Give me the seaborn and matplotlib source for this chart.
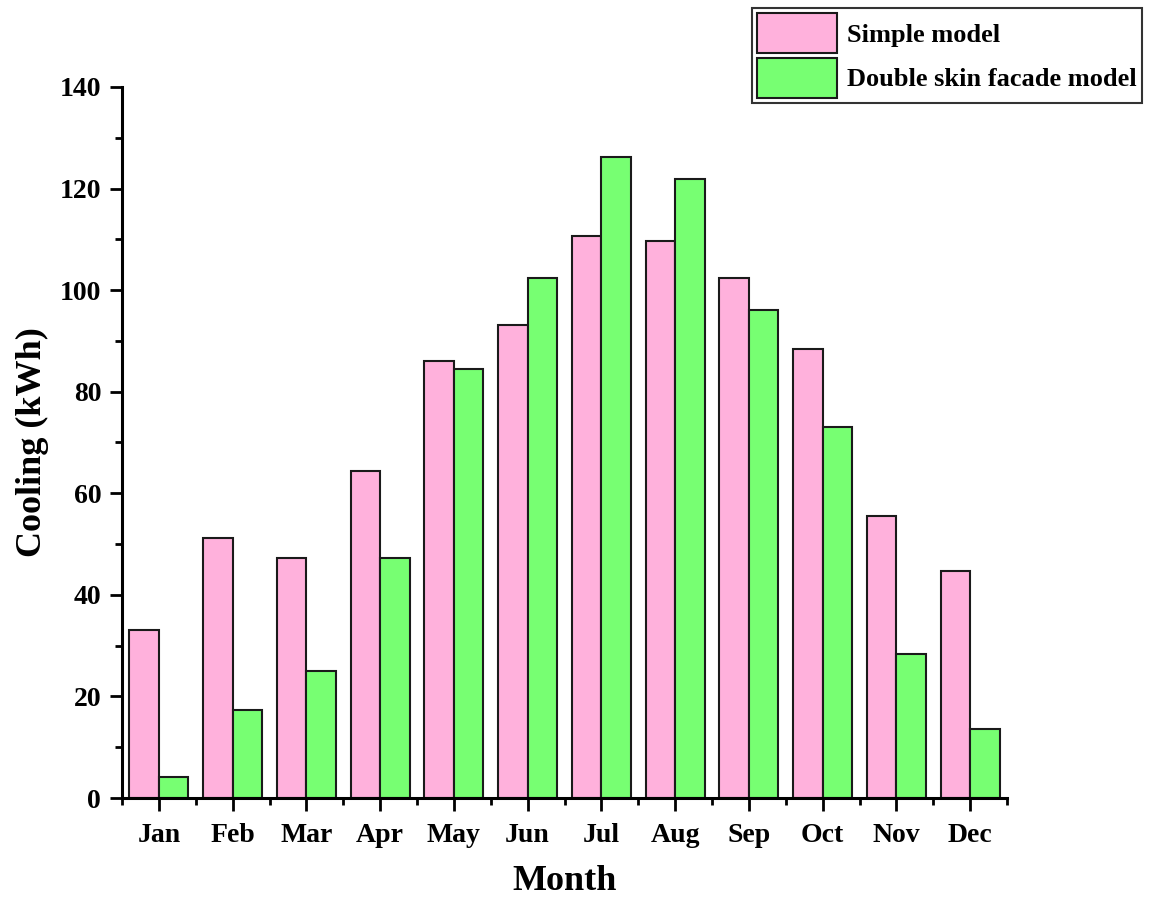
import matplotlib
matplotlib.use("Agg")
import matplotlib.pyplot as plt
from matplotlib.ticker import FixedLocator, MultipleLocator
from matplotlib.patches import Patch
import seaborn as sns
import pandas as pd
import numpy as np

# Monthly cooling energy (kWh)
months = ["Jan", "Feb", "Mar", "Apr", "May", "Jun",
          "Jul", "Aug", "Sep", "Oct", "Nov", "Dec"]
simple_model = [33.0, 51.2, 47.2, 64.4, 86.1, 93.1,
                110.6, 109.7, 102.3, 88.5, 55.5, 44.6]
dsf_model = [4.1, 17.3, 25.1, 47.2, 84.5, 102.4,
             126.2, 121.8, 96.0, 73.0, 28.4, 13.6]
series_names = ["Simple model", "Double skin facade model"]
series_colors = ["#FFB1DC", "#77FF72"]

df = pd.DataFrame({
    "Month": months * 2,
    "Cooling": simple_model + dsf_model,
    "Model": [series_names[0]] * len(months) + [series_names[1]] * len(months),
})

sns.set_theme(style="ticks")
plt.rcParams["font.family"] = ["Liberation Serif", "DejaVu Serif"]
plt.rcParams["font.weight"] = "bold"
plt.rcParams["text.color"] = "black"
plt.rcParams["axes.labelcolor"] = "black"
plt.rcParams["xtick.color"] = "black"
plt.rcParams["ytick.color"] = "black"
plt.rcParams["xtick.labelcolor"] = "black"
plt.rcParams["ytick.labelcolor"] = "black"

fig = plt.figure(figsize=(11.53, 9.06), dpi=100)
ax = fig.add_axes([122 / 1153, 1 - 798 / 906, (1007 - 122) / 1153, (798 - 87) / 906])

sns.barplot(data=df, x="Month", y="Cooling", hue="Model", order=months,
            hue_order=series_names, palette=series_colors, width=0.8,
            edgecolor="#1a1a1a", linewidth=1.5, saturation=1, ax=ax,
            legend=False)

ax.set_xlim(-0.5, len(months) - 0.5)
ax.set_ylim(0, 140)
ax.yaxis.set_major_locator(MultipleLocator(20))
ax.yaxis.set_minor_locator(MultipleLocator(10))
ax.xaxis.set_minor_locator(FixedLocator(np.arange(-0.5, len(months), 1.0)))

for side in ("top", "right"):
    ax.spines[side].set_visible(False)
for side in ("left", "bottom"):
    ax.spines[side].set_linewidth(2.2)
    ax.spines[side].set_color("black")

ax.tick_params(axis="both", which="major", direction="out", length=9,
               width=2.0, color="black", labelcolor="black", labelsize=20)
ax.tick_params(axis="both", which="minor", direction="out", length=5,
               width=2.0, color="black")
ax.tick_params(axis="y", which="major", pad=6)
ax.tick_params(axis="x", which="major", pad=9)
for lbl in ax.get_xticklabels() + ax.get_yticklabels():
    lbl.set_fontweight("bold")
    lbl.set_color("black")

ax.set_xlabel("Month", fontsize=26, fontweight="bold", labelpad=12, color="black")
ax.set_ylabel("Cooling (kWh)", fontsize=26, fontweight="bold", labelpad=8, color="black")

handles = [Patch(facecolor=c, edgecolor="#1a1a1a", linewidth=1.5, label=n)
           for c, n in zip(series_colors, series_names)]
leg = fig.legend(handles=handles, loc="upper right",
                 bbox_to_anchor=(1142 / 1153, 1 - 8 / 906),
                 bbox_transform=fig.transFigure, borderaxespad=0,
                 frameon=True, fancybox=False, shadow=False,
                 prop={"family": "Liberation Serif", "weight": "bold", "size": 19},
                 handlelength=3.0, handleheight=1.95, labelspacing=0.18,
                 handletextpad=0.4, borderpad=0.2)
leg.get_frame().set_edgecolor("black")
leg.get_frame().set_linewidth(1.5)
for t in leg.get_texts():
    t.set_color("black")

fig.savefig("out.png", dpi=100, facecolor="white")
